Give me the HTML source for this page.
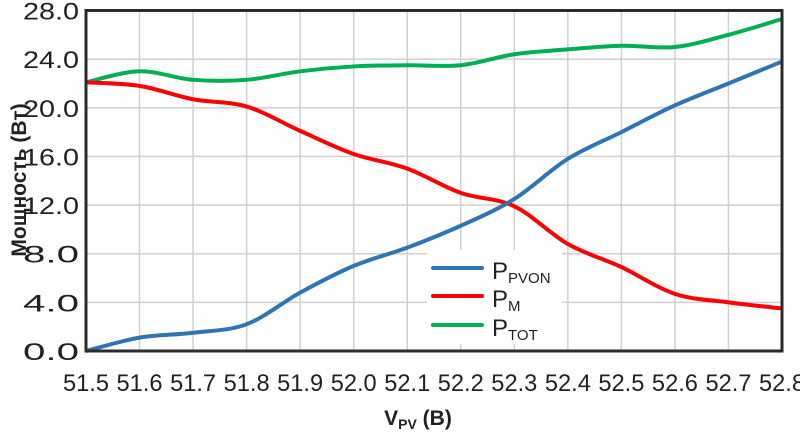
<!DOCTYPE html>
<html><head><meta charset="utf-8"><style>
body{margin:0;background:#fff;}
svg text{font-family:"Liberation Sans",sans-serif;fill:#222;}
</style></head><body>
<svg id="chart" width="800" height="432" viewBox="0 0 800 432">
<g id="grid"></g>
<g id="series"></g>
<rect x="86" y="10.5" width="696" height="340.5" fill="none" stroke="#2b2b2b" stroke-width="3"/>
<g id="yticks"></g>
<g id="xticks"></g>
<text x="26" y="180" transform="rotate(-90 26 180)" text-anchor="middle" font-size="21" font-weight="bold">Мощность (Вт)</text>
<text x="418" y="425" text-anchor="middle" font-size="21" font-weight="bold">V<tspan font-size="14" dy="4">PV</tspan><tspan dy="-4"> (В)</tspan></text>
<g>
<rect x="427" y="250" width="135" height="94" fill="#fff"/>
<g><line x1="433" y1="268" x2="482" y2="268" stroke="#2e75b6" stroke-width="4" stroke-linecap="round"/><text x="492" y="279" font-size="24">P<tspan font-size="15" dy="4">PVON</tspan></text></g>
<g><line x1="433" y1="296" x2="482" y2="296" stroke="#ff0000" stroke-width="4" stroke-linecap="round"/><text x="492" y="307" font-size="24">P<tspan font-size="15" dy="4">M</tspan></text></g>
<g><line x1="433" y1="325" x2="482" y2="325" stroke="#00b050" stroke-width="4" stroke-linecap="round"/><text x="492" y="336" font-size="24">P<tspan font-size="15" dy="4">TOT</tspan></text></g>
</g>
</svg>
<script>
const xValues=[51.5,51.6,51.7,51.8,51.9,52.0,52.1,52.2,52.3,52.4,52.5,52.6,52.7,52.8];
const pPvon=[0,1.1,1.5,2.2,4.8,7.0,8.5,10.3,12.5,15.8,18.0,20.2,22.0,23.8];
const pM=[22.1,21.8,20.7,20.1,18.1,16.2,15.0,13.0,11.9,8.8,6.9,4.7,4.0,3.5];
const pTot=[22.1,23.0,22.3,22.3,23.0,23.4,23.5,23.5,24.4,24.8,25.1,25.0,26.0,27.3];
const yTicks=[0,4,8,12,16,20,24,28];
const xTicks=[51.5,51.6,51.7,51.8,51.9,52.0,52.1,52.2,52.3,52.4,52.5,52.6,52.7,52.8];
const NS="http://www.w3.org/2000/svg";
const X0=86,X1=782,Y0=351,Y1=10.5;
function sx(v){return X0+(v-51.5)/(52.8-51.5)*(X1-X0);}
function sy(v){return Y0-v/28*(Y0-Y1);}
const grid=document.getElementById('grid'),yt=document.getElementById('yticks'),xt=document.getElementById('xticks'),ser=document.getElementById('series');
yTicks.forEach(t=>{
 const l=document.createElementNS(NS,'line');
 l.setAttribute('x1',X0);l.setAttribute('x2',X1);l.setAttribute('y1',sy(t));l.setAttribute('y2',sy(t));
 l.setAttribute('stroke','#d0d0d0');l.setAttribute('stroke-width','1.5');
 
 
 grid.appendChild(l);
 const tx=document.createElementNS(NS,'text');
 tx.setAttribute('x',79);tx.setAttribute('y',sy(t)+9);tx.setAttribute('text-anchor','end');tx.setAttribute('font-size','24');
 tx.setAttribute('textLength','56');tx.setAttribute('lengthAdjust','spacingAndGlyphs');
 tx.textContent=t.toFixed(1);
 
 
 yt.appendChild(tx);
});
xTicks.forEach(t=>{
 const l=document.createElementNS(NS,'line');
 l.setAttribute('x1',sx(t));l.setAttribute('x2',sx(t));l.setAttribute('y1',Y1);l.setAttribute('y2',Y0);
 l.setAttribute('stroke','#d0d0d0');l.setAttribute('stroke-width','1.5');
 
 
 grid.appendChild(l);
 const tx=document.createElementNS(NS,'text');
 tx.setAttribute('x',sx(t));tx.setAttribute('y',391);tx.setAttribute('text-anchor','middle');tx.setAttribute('font-size','24');
 tx.setAttribute('textLength','46');tx.setAttribute('lengthAdjust','spacingAndGlyphs');
 tx.textContent=t.toFixed(1);
 
 
 xt.appendChild(tx);
});
function pathFor(vals){
 const p=xValues.map((x,i)=>[sx(x),sy(vals[i])]);
 let d='M'+p[0][0]+','+p[0][1];
 for(let i=0;i<p.length-1;i++){
  const a=p[Math.max(i-1,0)],b=p[i],c=p[i+1],e=p[Math.min(i+2,p.length-1)];
  const c1=[b[0]+(c[0]-a[0])/6,b[1]+(c[1]-a[1])/6],c2=[c[0]-(e[0]-b[0])/6,c[1]-(e[1]-b[1])/6];
  d+=' C'+c1[0]+','+c1[1]+' '+c2[0]+','+c2[1]+' '+c[0]+','+c[1];
 }
 return d;
}
[[pTot,'#00b050','series-ptot'],[pM,'#ff0000','series-pm'],[pPvon,'#2e75b6','series-ppvon']].forEach(s=>{
 const path=document.createElementNS(NS,'path');
 path.setAttribute('d',pathFor(s[0]));path.setAttribute('fill','none');path.setAttribute('stroke',s[1]);path.setAttribute('stroke-width','4');
 
 
 ser.appendChild(path);
});
</script>
</body></html>
